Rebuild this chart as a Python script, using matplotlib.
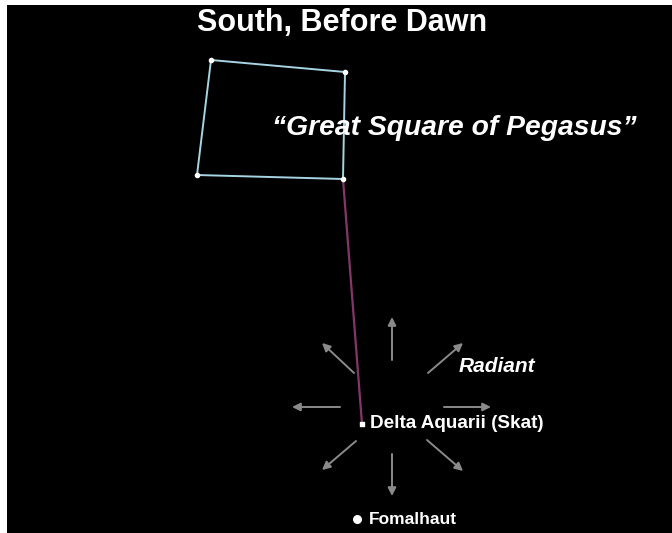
import matplotlib.pyplot as plt

# sky positions in image pixel coordinates
square_x = [211, 345, 343, 197, 211]
square_y = [60, 72, 179, 175, 60]
pointer_x = [343, 362]
pointer_y = [179, 424]
delta_x, delta_y = 362, 424
fomal_x, fomal_y = 357, 519

# radiant arrows (tail -> tip)
arrow_tail_x = [392, 428, 444, 427, 392, 356, 340, 354]
arrow_tail_y = [360, 373, 407, 440, 454, 441, 407, 373]
arrow_tip_x = [392, 463, 491, 463, 392, 322, 292, 322]
arrow_tip_y = [317, 343, 407, 471, 496, 470, 407, 343]

fig = plt.figure(figsize=(6.72, 5.33), dpi=100)
fig.patch.set_facecolor('white')
ax = fig.add_axes([7 / 672, 0, 665 / 672, 528 / 533])
ax.set_facecolor('black')
ax.set_xlim(7, 672)
ax.set_ylim(533, 5)
ax.set_xticks([])
ax.set_yticks([])
for s in ax.spines.values():
    s.set_visible(False)

font = ['Liberation Sans', 'DejaVu Sans']

# Great Square
ax.plot(square_x, square_y, color='#a6d4e2', lw=1.4, zorder=2)
ax.scatter(square_x[:-1], square_y[:-1], s=9, color='white', zorder=3)

# pointer line to Delta Aquarii
ax.plot(pointer_x, pointer_y, color='#86356a', lw=1.6, zorder=1)

# radiant arrows
for x0, y0, x1, y1 in zip(arrow_tail_x, arrow_tail_y, arrow_tip_x, arrow_tip_y):
    ax.annotate('', xy=(x1, y1), xytext=(x0, y0),
                arrowprops=dict(arrowstyle='-|>', color='#8a8a8a', lw=1.4,
                                mutation_scale=12, shrinkA=0, shrinkB=0))

ax.scatter([delta_x], [delta_y], s=10, marker='s', color='white', zorder=3)
ax.scatter([fomal_x], [fomal_y], s=30, color='white', zorder=3)

ax.text(342, 23, 'South, Before Dawn', color='white', fontsize=22,
        fontweight='bold', family=font, ha='center', va='center')
ax.text(454, 128, '\u201cGreat Square of Pegasus\u201d', color='white', fontsize=20.3,
        fontweight='bold', style='italic', family=font, ha='center', va='center')
ax.text(459, 367, 'Radiant', color='white', fontsize=15,
        fontweight='bold', style='italic', family=font, ha='left', va='center')
ax.text(370, 424, 'Delta Aquarii (Skat)', color='white', fontsize=13.6,
        fontweight='bold', family=font, ha='left', va='center')
ax.text(369, 519, 'Fomalhaut', color='white', fontsize=12.5,
        fontweight='bold', family=font, ha='left', va='center')

plt.savefig('out.png', dpi=100, facecolor=fig.get_facecolor())
